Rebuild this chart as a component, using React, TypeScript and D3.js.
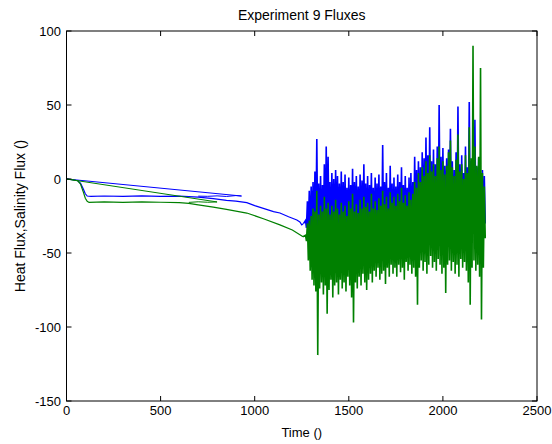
import React from "react";
import * as d3 from "d3";

// ---------- data ----------
const xTicks = [0, 500, 1000, 1500, 2000, 2500];
const yTicks = [-150, -100, -50, 0, 50, 100];

// smooth start of heat flux (blue)
const blueTimes = [0, 30, 60, 75, 90, 100, 110, 130, 200, 300, 400, 500, 600, 700, 780, 850, 900, 958, 1000, 1050, 1100, 1134, 1180, 1224, 1240, 1250, 1260];
const blueVals = [0, -0.5, -1.2, -3, -7, -10, -11.5, -11.8, -11.5, -11.7, -11.4, -11.8, -11.6, -12.2, -13.2, -14.5, -15, -16, -18, -20, -22, -23, -25.5, -27.7, -29, -31, -30];
// branch of heat flux (diagonal return + flat)
const blueBranchTimes = [0, 930, 900, 850, 800, 750, 700];
const blueBranchVals = [0, -11.5, -11.2, -11.8, -11.4, -11.7, -11.6];

// smooth start of salinity flux (green)
const greenTimes = [0, 30, 60, 75, 90, 100, 110, 120, 200, 300, 400, 500, 600, 650, 700, 780, 850, 958, 1050, 1134, 1200, 1257];
const greenVals = [0, -0.5, -1.2, -3.5, -9, -13, -15, -15.8, -15.5, -15.8, -15.4, -15.7, -16, -16.5, -17.5, -19, -20.5, -23, -27, -31, -34.5, -39];
const greenBranchTimes = [0, 800, 750, 700, 650];
const greenBranchVals = [0, -15.5, -15.7, -15.4, -15.8];

// noisy section: sampled every 10 time units from 1270 to 2220, upper / lower swings
const noisyStart = 1270;
const noisyStep = 10;
const blueHi = [-28, -15, -8, -5, -2, 5, 27, -3, 2, -4, 10, 22, 15, -2, 4, 0, 6, 2, -3, 5, -2, 3, -6, 1, -4, 7, -2, 2, -5, 3, -1, 10, -3, 2, -4, 4, -6, 1, -3, 3, -5, 23, -2, 4, -6, 9, -3, 1, -5, 3, -2, 8, -4, 2, -6, 1, 4, -2, 15, 6, 12, 8, 18, 14, 28, 16, 35, 12, 20, 10, 22, 50, 15, 21, 9, 14, 20, 34, 12, 6, 18, 49, 10, 16, 4, 22, 8, 52, 12, 18, 40, 8, 14, 3, 6, 2];
const blueLo = [-33, -36, -40, -38, -42, -37, -44, -39, -41, -36, -43, -38, -40, -45, -37, -42, -39, -36, -44, -40, -38, -42, -37, -41, -39, -43, -36, -40, -42, -38, -44, -37, -41, -39, -36, -42, -40, -38, -43, -37, -41, -39, -36, -42, -38, -40, -44, -37, -39, -41, -36, -43, -38, -40, -37, -42, -39, -36, -35, -38, -33, -36, -32, -35, -30, -34, -31, -36, -33, -30, -35, -28, -32, -34, -30, -36, -31, -29, -35, -33, -30, -28, -34, -32, -36, -30, -33, -27, -31, -35, -29, -33, -30, -34, -32, -30];
const greenHi = [-38, -30, -28, -25, -20, -22, -8, -24, -18, -22, -12, -20, -16, -24, -18, -22, -14, -20, -24, -16, -22, -18, -25, -15, -20, -10, -22, -17, -23, -14, -20, -12, -19, -16, -22, -10, -20, -15, -21, -13, -18, -8, -17, -12, -20, -9, -16, -12, -18, -10, -15, -6, -16, -11, -18, -9, -14, -10, -2, -6, 4, -2, 8, 2, 12, 4, 16, 5, 10, 2, 14, 22, 6, 12, 3, 9, 18, 26, 8, 2, 13, 30, 5, 10, 0, 16, 4, 35, 14, 90, 22, 9, 15, 75, 4, -5];
const greenLo = [-42, -55, -62, -68, -72, -76, -119, -74, -70, -78, -72, -91, -75, -68, -80, -72, -70, -78, -68, -74, -70, -76, -66, -72, -80, -97, -70, -74, -66, -72, -64, -70, -75, -68, -64, -70, -62, -66, -60, -68, -64, -62, -71, -60, -66, -58, -64, -60, -66, -58, -63, -60, -68, -56, -62, -58, -64, -60, -66, -85, -60, -55, -62, -56, -64, -58, -52, -60, -56, -62, -54, -58, -64, -60, -77, -58, -55, -62, -56, -64, -58, -66, -54, -60, -56, -62, -70, -85, -60, -55, -62, -58, -66, -95, -60, -40];

// ---------- layout ----------
const W = 552;
const H = 444;
const left = 66.5;
const right = 537;
const top = 31;
const bottom = 401;
const FONT = "'Liberation Sans', Arial, Helvetica, sans-serif";
const BLUE = "#0000ff";
const GREEN = "#008000";

function pairs(ts: number[], vs: number[]): [number, number][] {
  return ts.map((t, i) => [t, vs[i]]);
}

function noisy(hi: number[], lo: number[]): [number, number][] {
  const out: [number, number][] = [];
  hi.forEach((h, i) => {
    const t = noisyStart + i * noisyStep;
    out.push([t, h]);
    out.push([t + noisyStep / 2, lo[i]]);
  });
  return out;
}

export default function App() {
  const x = d3.scaleLinear().domain([0, 2500]).range([left, right]);
  const y = d3.scaleLinear().domain([-150, 100]).range([bottom, top]);
  const line = d3
    .line<[number, number]>()
    .x((d) => x(d[0]))
    .y((d) => y(d[1]));

  const blueSmooth = pairs(blueTimes, blueVals);
  const blueNoisy = [blueSmooth[blueSmooth.length - 1], ...noisy(blueHi, blueLo)];
  const blueBranch = pairs(blueBranchTimes, blueBranchVals);
  const greenSmooth = pairs(greenTimes, greenVals);
  const greenNoisy = [greenSmooth[greenSmooth.length - 1], ...noisy(greenHi, greenLo)];
  const greenBranch = pairs(greenBranchTimes, greenBranchVals);

  const tickLen = 5;

  return (
    <svg
      width={W}
      height={H}
      style={{ position: "absolute", left: 0, top: 0, background: "#fff" }}
      fontFamily={FONT}
    >
      <rect x={0} y={0} width={W} height={H} fill="#fff" />
      <g fill="none" strokeLinejoin="miter">
        <path d={line(blueBranch) || ""} stroke={BLUE} strokeWidth={1} />
        <path d={line(blueSmooth) || ""} stroke={BLUE} strokeWidth={1.2} />
        <path d={line(blueNoisy) || ""} stroke={BLUE} strokeWidth={1.6} />
        <path d={line(greenBranch) || ""} stroke={GREEN} strokeWidth={1} />
        <path d={line(greenSmooth) || ""} stroke={GREEN} strokeWidth={1.2} />
        <path d={line(greenNoisy) || ""} stroke={GREEN} strokeWidth={1.6} />
      </g>
      {/* box */}
      <rect x={left} y={top} width={right - left} height={bottom - top} fill="none" stroke="#000" strokeWidth={1} />
      {/* x ticks */}
      {xTicks.map((t) => (
        <g key={"x" + t}>
          <line x1={x(t)} x2={x(t)} y1={bottom} y2={bottom - tickLen} stroke="#000" />
          <line x1={x(t)} x2={x(t)} y1={top} y2={top + tickLen} stroke="#000" />
          <text x={x(t)} y={415} fontSize={13} textAnchor="middle" fill="#000">
            {t}
          </text>
        </g>
      ))}
      {/* y ticks */}
      {yTicks.map((v) => (
        <g key={"y" + v}>
          <line x1={left} x2={left + tickLen} y1={y(v)} y2={y(v)} stroke="#000" />
          <line x1={right} x2={right - tickLen} y1={y(v)} y2={y(v)} stroke="#000" />
          <text x={61} y={y(v)} dy="0.36em" fontSize={13} textAnchor="end" fill="#000">
            {v}
          </text>
        </g>
      ))}
      <text x={(left + right) / 2} y={19.5} fontSize={14} textAnchor="middle" fill="#000">
        Experiment 9 Fluxes
      </text>
      <text x={(left + right) / 2} y={437} fontSize={13} textAnchor="middle" fill="#000">
        Time ()
      </text>
      <text
        transform={`translate(25, ${(top + bottom) / 2}) rotate(-90)`}
        fontSize={14}
        textAnchor="middle"
        fill="#000"
      >
        Heat Flux,Salinity Flux ()
      </text>
    </svg>
  );
}
